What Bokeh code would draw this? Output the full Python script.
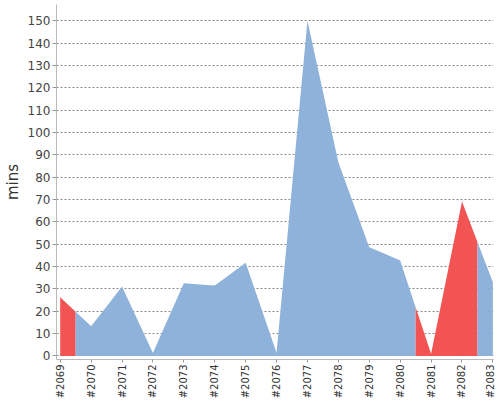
import math
from bokeh.plotting import figure
from bokeh.models import Range1d, FixedTicker
from bokeh.embed import file_html
from bokeh.resources import INLINE

# ---- data ----
builds = ["#2069", "#2070", "#2071", "#2072", "#2073", "#2074", "#2075", "#2076",
          "#2077", "#2078", "#2079", "#2080", "#2081", "#2082", "#2083"]
durations = [26.3, 13.3, 31.1, 1.3, 32.6, 31.5, 41.7, 1.4,
             150.0, 86.7, 48.7, 42.7, 1.0, 69.1, 33.0]
status = ["FAILURE", "SUCCESS", "SUCCESS", "SUCCESS", "SUCCESS", "SUCCESS", "SUCCESS", "SUCCESS",
          "SUCCESS", "SUCCESS", "SUCCESS", "SUCCESS", "FAILURE", "FAILURE", "SUCCESS"]
y_ticks = list(range(0, 151, 10))

colors = {"SUCCESS": "#8EB2D9", "FAILURE": "#F25454"}

n = len(builds)
xs_idx = list(range(n))

p = figure(frame_width=437, frame_height=355, output_backend="svg", toolbar_location=None,
           x_range=Range1d(-0.12, n - 1 + 0.02), y_range=Range1d(-1.57, 157.3),
           min_border_top=4, min_border_right=2, min_border_left=47, min_border_bottom=0)
p.outline_line_color = None
p.background_fill_color = "white"


def interp(x):
    i0 = int(x)
    if i0 >= n - 1:
        return durations[n - 1]
    f = x - i0
    return durations[i0] * (1 - f) + durations[i0 + 1] * f


# group contiguous builds with the same status into areas
runs = []
for i in xs_idx:
    if runs and runs[-1][0] == status[i]:
        runs[-1][1].append(i)
    else:
        runs.append([status[i], [i]])

for st, idxs in runs:
    xs = []
    for i in idxs:
        for x in (max(i - 0.5, 0), i, min(i + 0.5, n - 1)):
            if not xs or xs[-1] != x:
                xs.append(x)
    ys = [interp(x) for x in xs]
    p.varea(x=xs, y1=[0] * len(xs), y2=ys, fill_color=colors[st], fill_alpha=1.0)

# axes
p.xaxis.ticker = FixedTicker(ticks=xs_idx)
p.xaxis.major_label_overrides = {i: b for i, b in enumerate(builds)}
p.xaxis.major_label_orientation = math.pi / 2
p.xaxis.major_label_text_font = "DejaVu Sans"
p.xaxis.major_label_text_font_size = "10px"
p.xaxis.major_label_text_color = "#333333"
p.xaxis.major_tick_out = 3
p.xaxis.major_tick_in = 0
p.xaxis.minor_tick_line_color = None
p.xaxis.major_label_standoff = 2
p.xaxis.axis_line_color = "#BBBBBB"
p.xaxis.major_tick_line_color = "#999999"

p.yaxis.ticker = FixedTicker(ticks=y_ticks)
p.yaxis.axis_label = "mins"
p.yaxis.axis_label_text_font = "DejaVu Sans"
p.yaxis.axis_label_text_font_size = "15px"
p.yaxis.axis_label_text_font_style = "normal"
p.yaxis.axis_label_text_color = "#333333"
p.yaxis.axis_label_standoff = 3
p.yaxis.major_label_text_font = "DejaVu Sans"
p.yaxis.major_label_text_font_size = "12px"
p.yaxis.major_label_text_color = "#444444"
p.yaxis.major_tick_out = 4
p.yaxis.major_tick_in = 0
p.yaxis.minor_tick_line_color = None
p.yaxis.major_label_standoff = 2
p.yaxis.axis_line_color = "#BBBBBB"
p.yaxis.major_tick_line_color = "#999999"

p.xgrid.grid_line_color = None
p.ygrid.grid_line_color = "#888888"
p.ygrid.grid_line_dash = "2 2"
p.ygrid.grid_line_width = 1

open("out.html", "w").write(file_html(p, INLINE))
